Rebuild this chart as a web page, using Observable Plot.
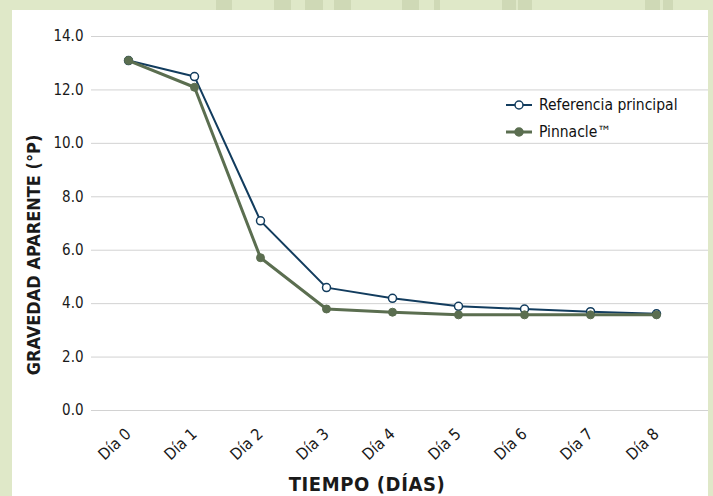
<!DOCTYPE html>
<html>
<head>
<meta charset="utf-8">
<script src="https://cdn.jsdelivr.net/npm/d3@7"></script>
<script src="https://cdn.jsdelivr.net/npm/@observablehq/plot@0.6"></script>
<style>
  html, body { margin: 0; padding: 0; }
  body { width: 713px; height: 496px; overflow: hidden; background: #dfe8c8; position: relative;
         font-family: "DejaVu Sans Condensed", "DejaVu Sans", sans-serif; font-stretch: condensed; }
  .stripe { position: absolute; top: 0; height: 10px; background: #cfd9b6; }
  #panel { position: absolute; left: 12px; top: 10px; width: 696px; height: 486px; background: #fff; }
  #chart { position: absolute; left: 0; top: 0; }
  #chart svg text { font-stretch: condensed; }
  .title { position: absolute; font-weight: bold; color: #1a1a1a; white-space: nowrap; line-height: 1; }
  #ytitle { left: 34px; top: 255px; font-size: 18px; transform: translate(-50%, -50%) rotate(-90deg); }
  #xtitle { left: 367px; top: 484px; font-size: 20px; letter-spacing: 0.6px; transform: translate(-50%, -50%); }
  #legend { position: absolute; left: 505px; top: 91px; font-size: 15.5px; color: #111; }
  .row { display: flex; align-items: center; height: 27px; }
  .row svg { margin-right: 6px; }
</style>
</head>
<body>
<div class="stripe" style="left:216px;width:16px"></div>
<div class="stripe" style="left:274px;width:17px"></div>
<div class="stripe" style="left:305px;width:18px"></div>
<div class="stripe" style="left:334px;width:17px"></div>
<div class="stripe" style="left:402px;width:17px"></div>
<div class="stripe" style="left:434px;width:6px"></div>
<div class="stripe" style="left:502px;width:14px"></div>
<div class="stripe" style="left:518px;width:14px"></div>
<div class="stripe" style="left:645px;width:15px"></div>
<div class="stripe" style="left:663px;width:10px"></div>
<div id="panel"></div>
<div id="chart"></div>
<div id="ytitle" class="title">GRAVEDAD APARENTE (°P)</div>
<div id="xtitle" class="title">TIEMPO (DÍAS)</div>
<div id="legend"></div>
<script>
const days = ["Día 0","Día 1","Día 2","Día 3","Día 4","Día 5","Día 6","Día 7","Día 8"];
const referencia = [13.1, 12.5, 7.1, 4.6, 4.2, 3.9, 3.8, 3.7, 3.62];
const pinnacle   = [13.1, 12.1, 5.72, 3.8, 3.68, 3.58, 3.58, 3.58, 3.58];
const yTicks = [0, 2, 4, 6, 8, 10, 12, 14];
const seriesNames = ["Referencia principal", "Pinnacle™"];
const colors = { ref: "#123c5e", pin: "#5b6e50" };

const refData = days.map((d, i) => ({ day: d, value: referencia[i] }));
const pinData = days.map((d, i) => ({ day: d, value: pinnacle[i] }));

const chart = Plot.plot({
  width: 713,
  height: 496,
  marginLeft: 91,
  marginRight: 5,
  marginTop: 36,
  marginBottom: 86,
  style: { background: "transparent", fontFamily: "'DejaVu Sans Condensed', 'DejaVu Sans', sans-serif", fontSize: "15px", color: "#1a1a1a" },
  x: { type: "point", domain: days, padding: 0.674, align: 0.416, label: null },
  y: { domain: [0, 14], label: null },
  marks: [
    Plot.gridY(yTicks, { stroke: "#d2d2d2", strokeOpacity: 1, strokeWidth: 1 }),
    Plot.axisY(yTicks, { tickSize: 0, tickPadding: 8, tickFormat: d3.format(".1f"), fontSize: 15, label: null }),
    Plot.axisX({ tickSize: 0, tickPadding: 21, tickRotate: -43, fontSize: 16, label: null }),
    Plot.line(refData, { x: "day", y: "value", stroke: colors.ref, strokeWidth: 2 }),
    Plot.dot(refData, { x: "day", y: "value", r: 4, fill: "white", stroke: colors.ref, strokeWidth: 1.5 }),
    Plot.line(pinData, { x: "day", y: "value", stroke: colors.pin, strokeWidth: 3 }),
    Plot.dot(pinData, { x: "day", y: "value", r: 4, fill: colors.pin, stroke: colors.pin, strokeWidth: 1 })
  ]
});
document.getElementById("chart").appendChild(chart);

const legend = document.getElementById("legend");
const sym = (c, fill, w) => `<svg width="28" height="12"><line x1="1" y1="6" x2="27" y2="6" stroke="${c}" stroke-width="${w}"/><circle cx="14" cy="6" r="4" fill="${fill}" stroke="${c}" stroke-width="1.5"/></svg>`;
legend.innerHTML =
  `<div class="row">${sym(colors.ref, "white", 2)}<span>${seriesNames[0]}</span></div>` +
  `<div class="row">${sym(colors.pin, colors.pin, 3)}<span>${seriesNames[1]}</span></div>`;
</script>
</body>
</html>
